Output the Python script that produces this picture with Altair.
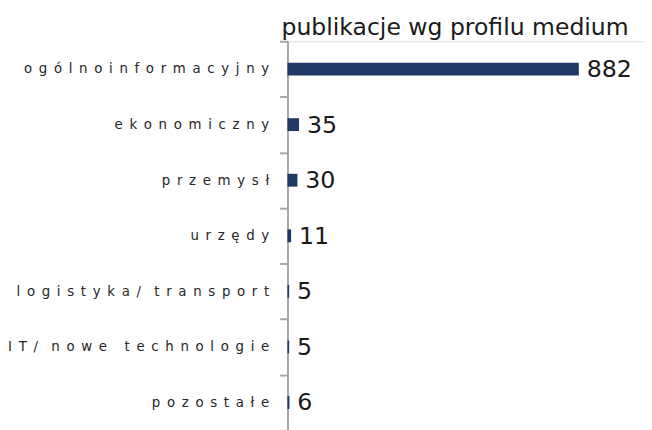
import altair as alt
import pandas as pd

categories = ["ogólnoinformacyjny", "ekonomiczny", "przemysł", "urzędy",
              "logistyka/ transport", "IT/ nowe technologie", "pozostałe"]
values = [882, 35, 30, 11, 5, 5, 6]
title_text = "publikacje wg profilu medium"

df = pd.DataFrame({"kategoria": categories, "wartosc": values})

FONT = "DejaVu Sans"
BAR = "#1f3864"
GRAY = "#a6a6a6"

PLOT_W = 361
BAR_PX_MAX = 295
x_max = max(values) * PLOT_W / BAR_PX_MAX

y_enc = alt.Y(
    "kategoria:N",
    sort=categories,
    title=None,
    scale=alt.Scale(paddingInner=0, paddingOuter=0),
    axis=alt.Axis(
        tickBand="extent",
        tickSize=8,
        tickColor=GRAY,
        tickWidth=2,
        domainColor=GRAY,
        domainWidth=2,
        grid=False,
        labelFont=FONT,
        labelFontSize=13.5,
        labelColor="#262626",
        labelPadding=11,
        labelLimit=0,
        labelExpr="replace(join(split(datum.label, ''), '\u2002'), '\u2002 \u2002', '\u2002\u2002')",
    ),
)

x_enc = alt.X("wartosc:Q", title=None, axis=None,
              scale=alt.Scale(domain=[0, x_max], nice=False, zero=True))

bars = alt.Chart(df).mark_bar(size=13, color=BAR).encode(y=y_enc, x=x_enc)

labels = alt.Chart(df).mark_text(
    align="left", baseline="middle", dx=8, dy=1,
    font=FONT, fontSize=24, color="#1a1a1a",
).encode(y=y_enc, x=x_enc, text="wartosc:Q")

chart = (
    alt.layer(bars, labels)
    .properties(
        width=PLOT_W,
        height=394,
        autosize=alt.AutoSizeParams(type="none"),
        padding={"left": 283, "top": 31, "right": 0, "bottom": 0},
        title=alt.TitleParams(
            title_text, anchor="start", frame="group", dx=-6, dy=13, offset=8,
            font=FONT, fontSize=23.8, fontWeight="normal", color="#1a1a1a",
        ),
    )
    .configure_view(strokeWidth=0, strokeOpacity=0)
    .configure_axis(grid=False)
    .configure(background="white")
)

chart.save("out.html", embed_options={"renderer": "svg", "actions": False})
